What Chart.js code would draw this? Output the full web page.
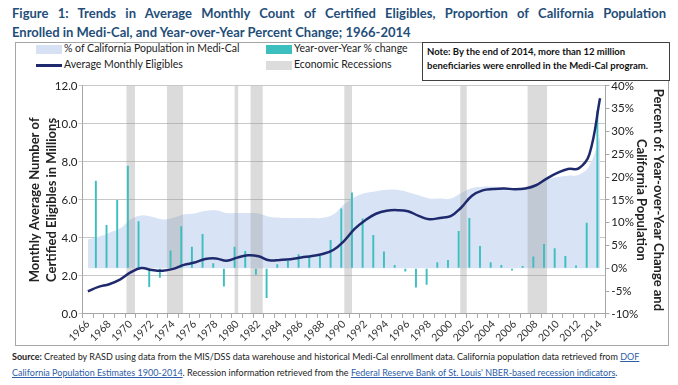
<!DOCTYPE html>
<html lang="en">
<head>
<meta charset="UTF-8">
<title>Medi-Cal Trends 1966-2014</title>
<script src="https://cdn.jsdelivr.net/npm/chart.js"></script>
<style>
    body { margin: 0; width: 678px; height: 385px; background: #fff; font-family: Lato, "Open Sans", sans-serif; position: relative; overflow: hidden; }
    .title { position: absolute; left: 12px; width: 654px; color: #1F4E79; font-weight: bold; font-size: 13px; line-height: 20px; }
    #t1 { top: 3px; text-align: justify; text-align-last: justify; }
    #t2 { top: 22px; }
    #frame { position: absolute; left: 15px; top: 42px; width: 652px; height: 302px; border: 1px solid #a6a6a6; }
    #note { position: absolute; left: 422px; top: 42px; width: 238px; height: 33px; border: 1px solid #404040; font-size: 9.5px; font-weight: bold; padding: 2px 4px; line-height: 14px; color: #111; background: #fff; }
    .leg { position: absolute; font-size: 10.5px; color: #222; white-space: nowrap; }
    .sw { position: absolute; }
    #chartBox { position: absolute; left: 16px; top: 77px; width: 656px; height: 267px; }
    #source { position: absolute; left: 12px; top: 349px; width: 666px; font-size: 9px; line-height: 16px; color: #222; white-space: nowrap; }
    #source a { color: #2E5EA8; text-decoration: underline; }
</style>
</head>
<body>
<div class="title" id="t1">Figure 1: Trends in Average Monthly Count of Certified Eligibles, Proportion of California Population</div>
<div class="title" id="t2">Enrolled in Medi-Cal, and Year-over-Year Percent Change; 1966-2014</div>
<div id="frame"></div>
<div id="note">Note: By the end of 2014, more than 12 million<br>beneficiaries were enrolled in the Medi-Cal program.</div>

<div class="sw" style="left:36px; top:45px; width:26px; height:9px; background:#d6e2f4;"></div>
<div class="leg" style="left:64px; top:42px;">% of California Population in Medi-Cal</div>
<div class="sw" style="left:36px; top:64px; width:26px; height:3px; background:#1f2a6e;"></div>
<div class="leg" style="left:64px; top:58px;">Average Monthly Eligibles</div>
<div class="sw" style="left:266px; top:45px; width:26px; height:9px; background:#3dbfbf;"></div>
<div class="leg" style="left:294px; top:42px;">Year-over-Year % change</div>
<div class="sw" style="left:266px; top:61px; width:26px; height:9px; background:#dcdcdc;"></div>
<div class="leg" style="left:294px; top:58px;">Economic Recessions</div>

<div id="chartBox"><canvas id="c"></canvas></div>

<div id="source"><b>Source:</b> Created by RASD using data from the MIS/DSS data warehouse and historical Medi-Cal enrollment data. California population data retrieved from <a>DOF</a><br><a>California Population Estimates 1900-2014</a>. Recession information retrieved from the <a>Federal Reserve Bank of St. Louis' NBER-based recession indicators</a>.</div>

<script>
// years 1966-2014
var years = [];
for (var y = 1966; y <= 2014; y++) years.push(String(y));

// average monthly eligibles, millions
var eligibles = [1.19, 1.42, 1.56, 1.80, 2.18, 2.41, 2.31, 2.27, 2.37, 2.58,
    2.70, 2.89, 2.92, 2.80, 2.96, 3.08, 3.03, 2.82, 2.84, 2.88,
    2.97, 3.05, 3.15, 3.36, 3.83, 4.47, 4.93, 5.27, 5.43, 5.46,
    5.40, 5.16, 4.98, 5.05, 5.14, 5.60, 6.22, 6.50, 6.57, 6.60,
    6.56, 6.60, 6.77, 7.12, 7.42, 7.63, 7.66, 8.40, 11.35];

// year-over-year % change
var yoyChange = [null, 19.2, 9.5, 15.0, 22.5, 10.3, -4.1, -2.1, 3.9, 9.2,
    4.7, 7.5, 1.1, -4.0, 4.7, 3.8, -1.4, -6.5, 0.9, 1.6,
    3.1, 2.6, 2.8, 6.2, 13.1, 16.6, 10.9, 7.3, 3.7, 0.7,
    -0.7, -4.2, -3.6, 1.3, 1.8, 8.2, 11.0, 4.9, 1.3, 0.7,
    -0.5, 0.5, 2.6, 5.3, 4.4, 2.7, 0.6, 10.0, 34.6];

// % of California population in Medi-Cal
var popShare = [6.3, 6.9, 7.8, 8.7, 10.7, 11.6, 11.3, 10.7, 11.1, 11.8,
    12.0, 12.6, 12.7, 12.1, 12.1, 12.1, 12.0, 11.3, 11.1, 11.0,
    11.0, 11.0, 11.1, 11.8, 14.0, 15.6, 16.5, 16.9, 17.2, 17.2,
    16.7, 16.0, 15.3, 15.3, 15.3, 16.5, 17.6, 17.9, 17.9, 17.8,
    17.6, 17.6, 18.3, 19.4, 20.0, 20.3, 20.5, 22.5, 29.0];

// recession bands (fractional years as drawn)
var recStart = [1969.6, 1973.4, 1979.73, 1981.23, 1990.02, 2000.89, 2007.19];
var recEnd   = [1970.42, 1974.93, 1980.11, 1982.4, 1990.77, 2001.52, 2009.04];

var datasets = [
    {
        type: 'line', label: 'Average Monthly Eligibles', data: eligibles,
        yAxisID: 'y', borderColor: '#1f2a6e', borderWidth: 2.5,
        pointRadius: 0, tension: 0.4, order: 0
    },
    {
        type: 'bar', label: 'Year-over-Year % change', data: yoyChange,
        yAxisID: 'y1', backgroundColor: '#3dbfbf',
        barPercentage: 0.36, categoryPercentage: 1, order: 1
    },
    {
        type: 'line', label: '% of California Population in Medi-Cal', data: popShare,
        yAxisID: 'y1', borderWidth: 0, backgroundColor: '#d8e4f5',
        fill: 'origin', pointRadius: 0, tension: 0.4, order: 3
    }
];
for (var i = 0; i < recStart.length; i++) {
    datasets.push({
        type: 'line', label: 'Economic Recessions',
        data: [{x: recStart[i], y: 1}, {x: recEnd[i], y: 1}],
        xAxisID: 'xr', yAxisID: 'yr', borderWidth: 0, pointRadius: 0,
        backgroundColor: 'rgba(150,150,150,0.34)', fill: 'origin', order: 2
    });
}

var tickFont = {family: 'Lato', size: 11.5};
var titleFont = {family: 'Lato', size: 13, weight: 'bold', lineHeight: 1.3};

new Chart(document.getElementById('c'), {
    data: {labels: years, datasets: datasets},
    options: {
        responsive: true, maintainAspectRatio: false, animation: false,
        layout: {padding: {left: 10, right: 5, top: 4, bottom: 0}},
        plugins: {legend: {display: false}, tooltip: {enabled: false}},
        scales: {
            x: {
                offset: true,
                grid: {drawOnChartArea: false, drawTicks: true, tickLength: 4, color: '#a6a6a6'},
                border: {color: '#a6a6a6'},
                ticks: {
                    autoSkip: false, maxRotation: 45, minRotation: 45, color: '#333',
                    font: {family: 'Lato', size: 10.5}, padding: 0,
                    callback: function (v, idx) { return idx % 2 === 0 ? years[idx] : ''; }
                }
            },
            xr: {type: 'linear', display: false, min: 1965.5, max: 2014.5},
            yr: {type: 'linear', display: false, min: 0, max: 1},
            y: {
                position: 'left', min: 0, max: 12,
                grid: {color: '#c8c8c8', tickLength: 4},
                border: {color: '#a6a6a6'},
                ticks: {stepSize: 2, color: '#222', font: tickFont, padding: 1,
                    callback: function (v) { return v.toFixed(1); }},
                title: {display: true, text: ['Monthly Average Number of', 'Certified Eligibles in Millions'],
                    color: '#222', font: titleFont, padding: {top: 0, bottom: -6}}
            },
            y1: {
                position: 'right', min: -10, max: 40,
                grid: {drawOnChartArea: false, tickLength: 4, color: '#a6a6a6'},
                border: {color: '#a6a6a6'},
                ticks: {stepSize: 5, color: '#222', font: tickFont, padding: 2,
                    callback: function (v) { return v + '%'; }},
                title: {display: true, text: ['Percent of: Year-over-Year Change and', 'California Population'],
                    color: '#222', font: titleFont, padding: {top: 0, bottom: -7}}
            }
        }
    }
});
</script>
</body>
</html>
